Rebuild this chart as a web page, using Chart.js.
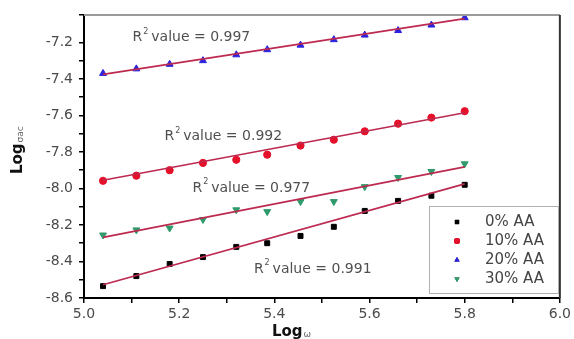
<!DOCTYPE html>
<html>
<head>
<meta charset="utf-8">
<script src="https://cdn.jsdelivr.net/npm/chart.js@4.4.0/dist/chart.umd.min.js"></script>
<style>
	html, body { margin: 0; padding: 0; background: #fff; }
</style>
</head>
<body>
<canvas id="logChart" width="574" height="339"></canvas>
<script>
// log(frequency) values
var logW = [5.04, 5.11, 5.18, 5.25, 5.32, 5.385, 5.455, 5.525, 5.59, 5.66, 5.73, 5.80];

var aa0 = [-8.535, -8.48, -8.414, -8.376, -8.32, -8.30, -8.26, -8.21, -8.123, -8.068, -8.04, -7.98];
var aa10 = [-7.958, -7.93, -7.90, -7.86, -7.843, -7.815, -7.765, -7.733, -7.687, -7.645, -7.612, -7.577];
var aa20 = [-7.37, -7.345, -7.32, -7.30, -7.268, -7.24, -7.215, -7.185, -7.16, -7.135, -7.105, -7.065];
var aa30 = [-8.255, -8.227, -8.217, -8.17, -8.117, -8.127, -8.072, -8.072, -7.99, -7.94, -7.907, -7.865];

// fitted lines: end points
var fitX = [5.04, 5.80];
var fit0 = [-8.528, -7.975];
var fit10 = [-7.955, -7.585];
var fit20 = [-7.375, -7.07];
var fit30 = [-8.268, -7.882];

var seriesNames = ['0% AA', '10% AA', '20% AA', '30% AA'];
var r2Values = ['0.991', '0.992', '0.997', '0.977'];
var r2AtX = [5.357, 5.169, 5.102, 5.228];
var r2AtY = [-8.442, -7.716, -7.173, -7.997];

var FONT = '"DejaVu Sans", sans-serif';

function pts(xs, ys) {
	return xs.map(function (x, i) { return { x: x, y: ys[i] }; });
}

function fitLine(ys) {
	return {
		type: 'line',
		data: pts(fitX, ys),
		borderColor: '#bd2a4f',
		borderWidth: 1.6,
		pointRadius: 0,
		order: 0,
	};
}

function markers(label, ys, color, style, rot, r) {
	return {
		type: 'scatter',
		label: label,
		data: pts(logW, ys),
		backgroundColor: color,
		borderColor: color,
		pointStyle: style,
		rotation: rot,
		pointRadius: r,
		order: 1,
	};
}

var extras = {
	id: 'extras',
	afterDraw: function (chart) {
		var ctx = chart.ctx;
		var a = chart.chartArea;
		var xs = chart.scales.x, ys = chart.scales.y;
		ctx.save();

		// frame
		ctx.lineWidth = 2;
		ctx.strokeStyle = '#9a9a9a';
		ctx.beginPath(); ctx.moveTo(a.left, a.top); ctx.lineTo(a.right, a.top); ctx.stroke();
		ctx.strokeStyle = '#333';
		ctx.beginPath(); ctx.moveTo(a.right, a.top); ctx.lineTo(a.right, a.bottom); ctx.stroke();

		// R^2 labels
		ctx.fillStyle = '#505050';
		ctx.textBaseline = 'middle';
		ctx.textAlign = 'left';
		r2Values.forEach(function (v, i) {
			var px = xs.getPixelForValue(r2AtX[i]);
			var py = ys.getPixelForValue(r2AtY[i]);
			ctx.font = '14px ' + FONT;
			ctx.fillText('R', px, py);
			var w = ctx.measureText('R').width;
			ctx.font = '8px ' + FONT;
			ctx.fillText('2', px + w + 1, py - 6);
			ctx.font = '14px ' + FONT;
			ctx.fillText('value = ' + v, px + w + 9, py);
		});

		// legend box
		ctx.strokeStyle = '#b0b0b0';
		ctx.lineWidth = 1;
		ctx.strokeRect(429.5, 206.5, 129, 87);
		var rows = [222, 241, 260, 279];
		chart.data.datasets.filter(function (d) { return d.label; }).forEach(function (d, i) {
			Chart.helpers.drawPoint(ctx, {
				pointStyle: d.pointStyle,
				rotation: d.rotation,
				radius: 3,
			}, 457, rows[i]);
			ctx.fillStyle = d.backgroundColor;
			ctx.strokeStyle = d.backgroundColor;
			Chart.helpers.drawPoint(ctx, {
				pointStyle: d.pointStyle,
				rotation: d.rotation,
				radius: 3,
			}, 457, rows[i]);
			ctx.fill();
			ctx.fillStyle = '#444';
			ctx.font = '15px ' + FONT;
			ctx.fillText(d.label, 485, rows[i]);
		});

		// axis titles
		ctx.fillStyle = '#111';
		ctx.font = 'bold 15px ' + FONT;
		ctx.fillText('Log', 272, 332);
		var lw = ctx.measureText('Log').width;
		ctx.font = '9px ' + FONT;
		ctx.fillStyle = '#666';
		ctx.fillText('ω', 272 + lw + 1, 335);

		ctx.translate(18, 174);
		ctx.rotate(-Math.PI / 2);
		ctx.fillStyle = '#111';
		ctx.font = 'bold 15px ' + FONT;
		ctx.fillText('Log', 0, 0);
		ctx.font = '9px ' + FONT;
		ctx.fillStyle = '#666';
		ctx.fillText('σac', lw + 1, 3);

		ctx.restore();
	},
};

function tickLabel(v) {
	var n = Math.round(v * 10);
	return n % 2 === 0 && Math.abs(v * 10 - n) < 1e-6 ? (n / 10).toFixed(1) : '';
}

var ctx = document.getElementById('logChart');
new Chart(ctx, {
	data: {
		datasets: [
			fitLine(fit0),
			fitLine(fit10),
			fitLine(fit20),
			fitLine(fit30),
			markers(seriesNames[0], aa0, '#000000', 'rect', 0, 3.5),
			markers(seriesNames[1], aa10, '#e5102a', 'circle', 0, 3.6),
			markers(seriesNames[2], aa20, '#2a22dd', 'triangle', 0, 4),
			markers(seriesNames[3], aa30, '#2f9a6c', 'triangle', 180, 4),
		],
	},
	options: {
		responsive: false,
		animation: false,
		layout: { padding: { top: 15, right: 11, left: 0, bottom: 0 } },
		plugins: {
			legend: { display: false },
			tooltip: { enabled: false },
		},
		scales: {
			x: {
				type: 'linear',
				min: 5.0,
				max: 6.0,
				afterFit: function (s) { s.height = 41; },
				border: { color: '#000', width: 2 },
				grid: { drawOnChartArea: false, tickLength: 5, color: '#000', lineWidth: 1.5 },
				ticks: {
					stepSize: 0.1,
					padding: 3,
					maxRotation: 0,
					autoSkip: false,
					color: '#4a4a4a',
					font: { family: FONT, size: 14 },
					callback: tickLabel,
				},
			},
			y: {
				type: 'linear',
				min: -8.6,
				max: -7.05,
				afterFit: function (s) { s.width = 84; },
				border: { color: '#000', width: 2 },
				grid: { drawOnChartArea: false, tickLength: 5, color: '#000', lineWidth: 1.5 },
				ticks: {
					stepSize: 0.1,
					padding: 6,
					autoSkip: false,
					color: '#4a4a4a',
					font: { family: FONT, size: 14 },
					callback: tickLabel,
				},
			},
		},
	},
	plugins: [extras],
});
</script>
</body>
</html>
